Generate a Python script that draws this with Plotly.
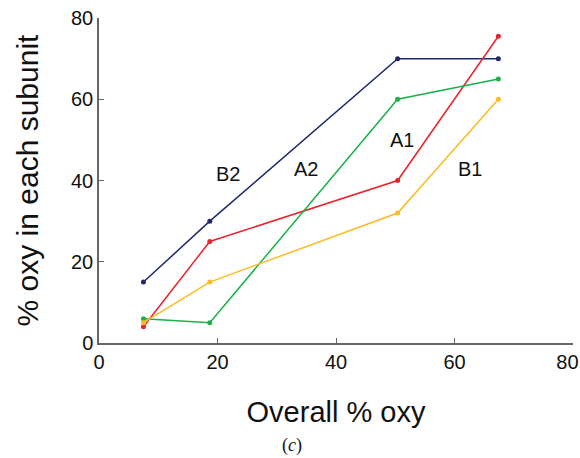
import plotly.graph_objects as go

overall = [7.5, 18.7, 50.4, 67.4]
b2 = [15, 30, 70, 70]
a1 = [4, 25, 40, 75.5]
a2 = [6, 5, 60, 65]
b1 = [5, 15, 32, 60]

series = [
    ("B2", b2, "#1f2a6e"),
    ("A1", a1, "#e8232b"),
    ("A2", a2, "#1ab04b"),
    ("B1", b1, "#fbbb22"),
]

labels = ["B2", "A2", "A1", "B1"]
label_x = [21.8, 35.0, 51.2, 62.6]
label_y = [41.6, 42.8, 50.0, 42.8]

tick_vals = [0, 20, 40, 60, 80]
x_tick_text = ["0", "20", "40", "60", "80\u2007"]

FONT = "Liberation Sans"

fig = go.Figure()
for name, ys, col in series:
    fig.add_trace(go.Scatter(x=overall, y=ys, mode="lines+markers", name=name,
                             line=dict(color=col, width=1.5),
                             marker=dict(color=col, size=5)))

for t, lx, ly in zip(labels, label_x, label_y):
    fig.add_annotation(x=lx, y=ly, text=t, showarrow=False,
                       font=dict(family=FONT, size=20, color="#111"))

fig.add_annotation(xref="paper", yref="paper", x=(292 - 98.5) / 474.2, y=(343.3 - 446) / 325,
                   yanchor="middle", text="(<i>c</i>)",
                   showarrow=False, font=dict(family="Liberation Serif", size=18, color="#111"))

axis_common = dict(range=[0, 80], tickvals=tick_vals, showgrid=False, zeroline=False,
                   showline=True, linecolor="#666", linewidth=1.5,
                   ticks="inside", ticklen=5, tickcolor="#666", automargin=False,
                   ticklabeloverflow="allow",
                   tickfont=dict(family=FONT, size=20, color="#111"))

fig.update_layout(
    width=580, height=458,
    margin=dict(l=98.5, r=7.3, t=18.3, b=114.7),
    paper_bgcolor="white", plot_bgcolor="white",
    showlegend=False,
    xaxis=dict(**axis_common, ticktext=x_tick_text,
               title=dict(text="Overall % oxy", standoff=30,
                          font=dict(family=FONT, size=29, color="#111"))),
    yaxis=dict(**axis_common, title=dict(text="% oxy in each subunit", standoff=24,
               font=dict(family=FONT, size=30, color="#111"))),
)

fig.write_html("out.html", config={"displayModeBar": False},
               post_script="document.body.style.margin='0';document.body.style.overflow='hidden';")
